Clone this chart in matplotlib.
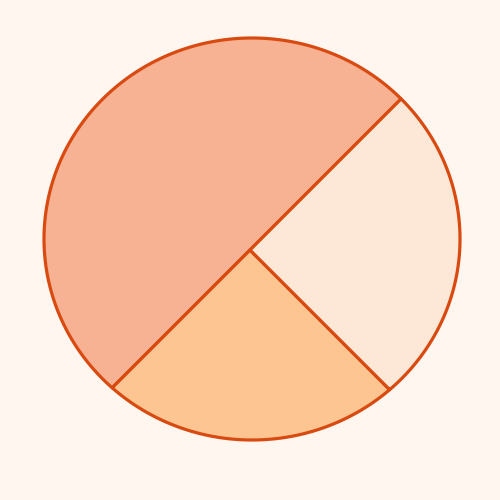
import numpy as np
import matplotlib
matplotlib.use('Agg')
import matplotlib.pyplot as plt
from matplotlib.patches import Polygon

# data
labels = ['A', 'B', 'C']
values = [50, 25, 25]
colors = ['#F7B294', '#FDC591', '#FDE8D7']
start_angle = 45  # degrees, counterclockwise

# layout (pixels)
bg = '#FFF6F0'
edge = '#D84A10'
pie_center = (250, 250)
ell_center = (252, 239)
ell_r = (208, 201)


def ray_to_ellipse(theta):
    # distance from pie center along theta to the outline
    dx, dy = np.cos(theta), -np.sin(theta)
    ox, oy = pie_center[0] - ell_center[0], pie_center[1] - ell_center[1]
    a, b = ell_r
    A = (dx / a) ** 2 + (dy / b) ** 2
    B = 2 * (ox * dx / a ** 2 + oy * dy / b ** 2)
    C = (ox / a) ** 2 + (oy / b) ** 2 - 1
    t = (-B + np.sqrt(B * B - 4 * A * C)) / (2 * A)
    return pie_center[0] + t * dx, pie_center[1] + t * dy


fig = plt.figure(figsize=(5, 5), dpi=100, facecolor=bg)
ax = fig.add_axes([0, 0, 1, 1])
ax.set_facecolor(bg)
ax.set_xlim(0, 500)
ax.set_ylim(500, 0)
ax.axis('off')

total = sum(values)
ang = np.radians(start_angle)
for v, c in zip(values, colors):
    span = 2 * np.pi * v / total
    thetas = np.linspace(ang, ang + span, 200)
    pts = [pie_center] + [ray_to_ellipse(t) for t in thetas]
    ax.add_patch(Polygon(pts, closed=True, facecolor=c, edgecolor=edge,
                         linewidth=2.3, joinstyle='round'))
    ang += span

fig.savefig('out.png', dpi=100, facecolor=bg)
